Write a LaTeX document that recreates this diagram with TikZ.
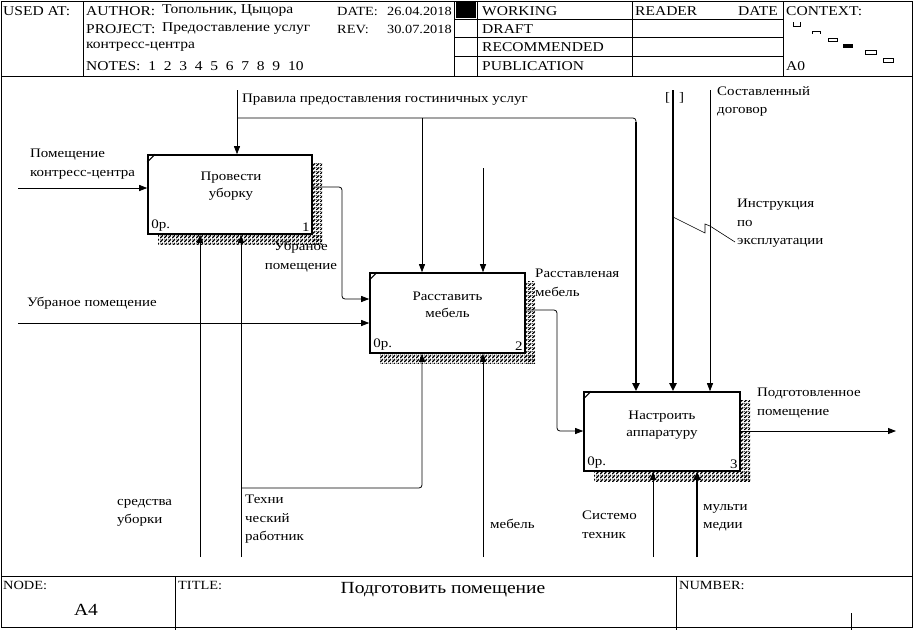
\documentclass[tikz,border=0pt]{standalone}
\usepackage{fontspec}
\setmainfont{Liberation Serif}[FakeStretch=1.15]
\usetikzlibrary{arrows.meta,patterns}
\pgfdeclarepatternformonly{idefhatch}{\pgfpointorigin}{\pgfpoint{4pt}{4pt}}{\pgfpoint{4pt}{4pt}}{%
  \pgfpathrectangle{\pgfpoint{0pt}{0pt}}{\pgfpoint{2pt}{1.2pt}}%
  \pgfpathrectangle{\pgfpoint{1pt}{1pt}}{\pgfpoint{2pt}{1.2pt}}%
  \pgfpathrectangle{\pgfpoint{2pt}{2pt}}{\pgfpoint{2pt}{1.2pt}}%
  \pgfpathrectangle{\pgfpoint{3pt}{3pt}}{\pgfpoint{1pt}{1pt}}%
  \pgfpathrectangle{\pgfpoint{0pt}{3pt}}{\pgfpoint{1pt}{1pt}}%
  \pgfusepath{fill}}
\begin{document}
\begin{tikzpicture}[x=1pt,y=-1pt,
  lbl/.style={font=\fontsize{13}{18.5}\selectfont, inner sep=0pt, align=left},
  hdr/.style={font=\fontsize{13.5}{15}\selectfont, inner sep=0pt, anchor=west},
  hdrs/.style={hdr, font=\fontsize{12.5}{15}\selectfont},
  boxn/.style={draw, line width=1.6pt, inner sep=0pt},
  boxt/.style={font=\fontsize{13}{17}\selectfont, align=center, inner sep=0pt},
  arr/.style={line width=0.8pt, -{Triangle[length=8pt,width=6pt]}, rounded corners=3pt},
  tarr/.style={line width=2.2pt, -{Triangle[length=8pt,width=7pt]}},
  ln/.style={line width=0.8pt, rounded corners=3pt},
  shadowfill/.style={pattern=idefhatch, draw=none},
  frame/.style={line width=1pt},
]
\useasboundingbox (0,0) rectangle (914,630);
% ---------- frame ----------
\draw[frame] (1,1) rectangle (912,627);
\draw[frame] (1,76) -- (912,76);
\draw[frame] (1,576) -- (912,576);
% header columns
\draw[frame] (83,1) -- (83,76);
\draw[frame] (454,1) -- (454,76);
\draw[frame] (477,1) -- (477,76);
\draw[frame] (632,1) -- (632,76);
\draw[frame] (783,1) -- (783,76);
\draw[frame] (454,19) -- (783,19);
\draw[frame] (454,37) -- (783,37);
\draw[frame] (454,56) -- (783,56);
\fill (456,2) rectangle (476,18);
% header text
\node[hdr] (usedat) at (3,11) {USED AT:};
\node[hdr] (author) at (86,11) {AUTHOR:};
\node[hdr] (authorv) at (162,11) {Топольник, Цыцора};
\node[hdrs] (date) at (337,11) {DATE:};
\node[hdrs, anchor=east] (datev) at (452,11) {26.04.2018};
\node[hdr] (project) at (86,29) {PROJECT:};
\node[hdr] (projectv) at (162,29) {Предоставление услуг};
\node[hdrs] (rev) at (337,29) {REV:};
\node[hdrs, anchor=east] (revv) at (452,29) {30.07.2018};
\node[hdr] (project2) at (86,47) {контресс-центра};
\node[hdr] (notes) at (86,66) {NOTES:\ \ 1\ \ 2\ \ 3\ \ 4\ \ 5\ \ 6\ \ 7\ \ 8\ \ 9\ \ 10};
\node[hdr] (working) at (482,11) {WORKING};
\node[hdr] (draft) at (482,29) {DRAFT};
\node[hdr] (recom) at (482,47) {RECOMMENDED};
\node[hdr] (public) at (482,66) {PUBLICATION};
\node[hdr] (reader) at (635,11) {READER};
\node[hdr] (rdate) at (738,11) {DATE};
\node[hdr] (context) at (786,11) {CONTEXT:};
\node[hdr] (a0) at (786,66) {A0};
% context marks
\draw[line width=0.9pt] (793,22) -- (793,26) -- (800,26) -- (800,22);
\draw[line width=0.9pt] (812,34) -- (812,31) -- (820,31) -- (820,34);
\draw[line width=0.9pt] (828,38) rectangle (837,41);
\fill (843,44) rectangle (853,48);
\draw[line width=0.9pt] (865,50) rectangle (876,54);
\draw[line width=0.9pt] (883,58) rectangle (893,62);
% footer
\draw[frame] (175,576) -- (175,630);
\draw[frame] (676,576) -- (676,630);
\draw[frame] (851,613) -- (851,630);
\node[hdr, font=\fontsize{12.5}{14}\selectfont] (node) at (3,585) {NODE:};
\node[hdr, font=\fontsize{12.5}{14}\selectfont] (title) at (178,585) {TITLE:};
\node[hdr, font=\fontsize{12.5}{14}\selectfont] (number) at (679,585) {NUMBER:};
\node[inner sep=0pt, font=\fontsize{17}{20}\selectfont] (a4) at (86,610) {A4};
\node[inner sep=0pt, font=\fontsize{17}{20}\selectfont] (titlev) at (443,590) {Подготовить помещение};
% ---------- shadows ----------
\fill[shadowfill] (313,163) rectangle (322,244);
\fill[shadowfill] (158,235) rectangle (322,244);
\fill[shadowfill] (526,281) rectangle (535,363);
\fill[shadowfill] (380,354) rectangle (535,363);
\fill[shadowfill] (741,400) rectangle (750,481);
\fill[shadowfill] (594,472) rectangle (750,481);
% ---------- boxes ----------
\node[boxn, minimum width=164pt, minimum height=79pt] (b1) at (230,194.5) {};
\node[boxn, minimum width=155pt, minimum height=80pt] (b2) at (447.5,313) {};
\node[boxn, minimum width=156pt, minimum height=79pt] (b3) at (662,431.5) {};
\node[boxt] (b1t) at (231,186) {Провести\\уборку};
\node[boxt] (b2t) at (447.5,305) {Расставить\\мебель};
\node[boxt] (b3t) at (662,425) {Настроить\\аппаратуру};
\foreach \b/\n in {b1/1,b2/2,b3/3}{
  \draw[line width=1pt] ([yshift=-8pt]\b.north west) -- ([xshift=8pt]\b.north west);
  \node[lbl, anchor=south west] (\b z) at ([shift={(4pt,3pt)}]\b.south west) {0р.};
  \node[lbl, anchor=south east] (\b n) at ([shift={(-3pt,3pt)}]\b.south east) {\n};
}
% ---------- coordinates ----------
\coordinate (inA) at (18,188);
\coordinate (inB) at (18,323);
\coordinate (ctlA) at (237,90);
\coordinate (ctlJ) at (237,118);
\coordinate (ctlB) at (422,118);
\coordinate (ctlC) at (636,118);
\coordinate (tunA) at (483,168);
\coordinate (ctlD) at (673,90);
\coordinate (ctlE) at (710,90);
\coordinate (m1) at (200,557);
\coordinate (m2) at (241,557);
\coordinate (m2j) at (241,488);
\coordinate (m3) at (483,557);
\coordinate (m4) at (653,557);
\coordinate (m5) at (697,557);
\coordinate (outE) at (896,431);
% ---------- connectors ----------
\draw[arr] (inA) -- (b1.west |- inA);
\draw[arr] (inB) -- (b2.west |- inB);
\draw[arr] (ctlA) -- (b1.north -| ctlA);
\draw[ln] (ctlJ) -- (ctlC) -- ([yshift=-6pt]ctlC);
\draw[tarr] ([yshift=-4pt]ctlC) -- (b3.north -| ctlC);
\draw[arr] (ctlB) -- (b2.north -| ctlB);
\draw[arr] (tunA) -- (b2.north -| tunA);
\draw[tarr] (ctlD) -- (b3.north -| ctlD);
\draw[arr] (ctlE) -- (b3.north -| ctlE);
\draw[arr] (b1.east |- 0,187) -- (342,187) -- (342,299) -- (b2.west |- 0,299);
\draw[arr] (b2.east |- 0,310) -- (557,310) -- (557,431) -- (b3.west |- 0,431);
\draw[arr] (b3.east |- outE) -- (outE);
\draw[arr] (m1) -- (b1.south -| m1);
\draw[arr] (m2) -- (b1.south -| m2);
\draw[arr] (m2j) -- (422,488) -- (b2.south -| 422,0);
\draw[arr] (m3) -- (b2.south -| m3);
\draw[arr] (m4) -- (b3.south -| m4);
\draw[tarr] (m5) -- (b3.south -| m5);
% squiggle
\draw[line width=0.6pt] (673,217) -- (705,233) -- (705,224) -- (710,226) -- (735,242);
% ---------- labels ----------
\node[lbl, anchor=north west] (lA) at (30,149) {Помещение\\контресс-центра};
\node[lbl, anchor=west] (lCtl) at (242,100) {Правила предоставления гостиничных услуг};
\node[lbl, anchor=north, align=center] (lO1) at (301,241) {Убраное\\помещение};
\node[lbl, anchor=west] (lB) at (27,303) {Убраное помещение};
\node[lbl, anchor=north west] (lO2) at (535,269) {Расставленая\\мебель};
\node[lbl, anchor=north west] (lO3) at (757,388) {Подготовленное\\помещение};
\node[lbl, anchor=north west] (lC1) at (717,86) {Составленный\\договор};
\node[lbl, anchor=north west] (lC2) at (737,199) {Инструкция\\по\\эксплуатации};
\node[lbl, anchor=west] (lbr) at (665,98) {[};
\node[lbl, anchor=west] (lbr2) at (679,98) {]};
\node[lbl, anchor=north west] (lM1) at (117,499) {средства\\уборки};
\node[lbl, anchor=north west] (lM2) at (245,495) {Техни\\ческий\\работник};
\node[lbl, anchor=west] (lM3) at (490,524) {мебель};
\node[lbl, anchor=north west] (lM4) at (582,511) {Системо\\техник};
\node[lbl, anchor=north west] (lM5) at (703,504) {мульти\\медии};
\end{tikzpicture}
\end{document}
